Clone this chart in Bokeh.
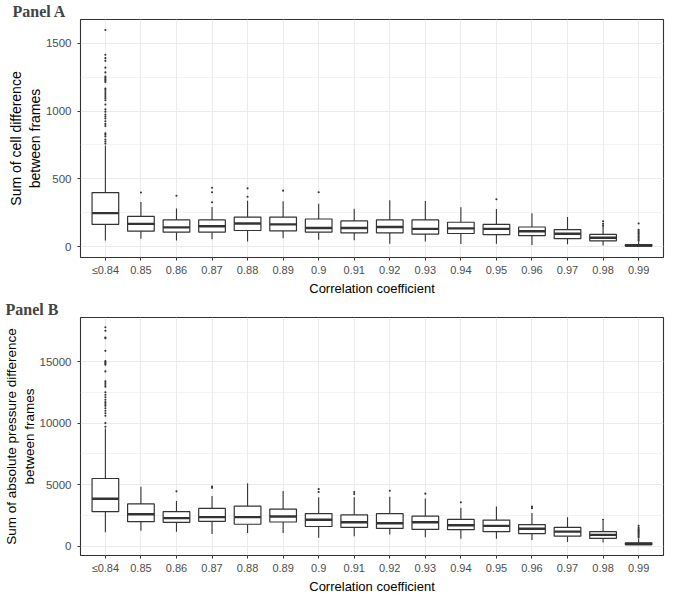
from bokeh.plotting import figure
from bokeh.models import FactorRange, Range1d, FixedTicker, ColumnDataSource
from bokeh.layouts import column
from bokeh.embed import file_html
from bokeh.resources import INLINE

cats = ["≤0.84", "0.85", "0.86", "0.87", "0.88", "0.89", "0.9", "0.91",
        "0.92", "0.93", "0.94", "0.95", "0.96", "0.97", "0.98", "0.99"]

# Panel A: sum of cell difference between frames
a_lo = [45, 59, 45, 55, 38, 62, 50, 47, 21, 38, 19, 21, 12, 17, 9, 0]
a_q1 = [164, 114, 107, 107, 119, 116, 107, 102, 102, 93, 97, 88, 81, 59, 43, 4]
a_med = [247, 168, 142, 150, 171, 164, 138, 138, 145, 131, 135, 131, 114, 95, 66, 9]
a_q3 = [399, 223, 197, 197, 218, 218, 204, 190, 197, 197, 180, 164, 145, 126, 90, 16]
a_hi = [745, 330, 282, 292, 339, 335, 316, 280, 342, 337, 290, 278, 247, 218, 150, 40]
a_out = {
    "≤0.84": [760, 775, 790, 812, 825, 835, 890, 905, 925, 945, 960, 975, 995, 1012,
              1048, 1080, 1095, 1110, 1125, 1140, 1155, 1165, 1215, 1225, 1235, 1245,
              1255, 1285, 1320, 1370, 1390, 1415, 1598],
    "0.85": [399],
    "0.86": [375],
    "0.87": [327, 401, 434],
    "0.88": [368, 430],
    "0.89": [413],
    "0.9": [401],
    "0.95": [349],
    "0.98": [154, 168, 187],
    "0.99": [45, 55, 65, 75, 85, 95, 105, 115, 125, 171],
}

# Panel B: sum of absolute pressure difference between frames
b_lo = [1126, 1257, 1178, 995, 1073, 1073, 681, 812, 942, 733, 602, 602, 497, 340, 288, 100]
b_q1 = [2801, 1990, 1937, 2016, 1780, 1964, 1597, 1518, 1440, 1361, 1335, 1178, 1021, 812, 628, 130]
b_med = [3848, 2592, 2278, 2356, 2356, 2409, 2147, 1937, 1859, 1937, 1702, 1649, 1414, 1178, 916, 180]
b_q3 = [5498, 3430, 2801, 3063, 3246, 3011, 2644, 2539, 2644, 2435, 2173, 2121, 1754, 1518, 1178, 260]
b_hi = [9550, 4817, 3665, 4084, 5105, 4477, 3979, 3979, 4006, 3875, 3115, 3220, 2697, 2356, 2050, 600]
b_out = {
    "≤0.84": [9700, 10000, 10600, 10800, 11000, 11200, 11400, 11550, 11700, 11900,
              12100, 12300, 12500, 12950, 13100, 13250, 13400, 14200, 14750, 14850,
              14950, 15050, 15870, 16900, 16960, 17500, 17790],
    "0.86": [4451],
    "0.87": [4739, 4843],
    "0.9": [4398, 4634],
    "0.91": [4241, 4398],
    "0.92": [4503],
    "0.93": [4267],
    "0.94": [3560],
    "0.96": [3089, 3220],
    "0.98": [2147],
    "0.99": [700, 800, 900, 1000, 1100, 1200, 1300, 1400, 1500, 1650],
}

a_ticks = [0, 500, 1000, 1500]
a_minor = [250, 750, 1250]
b_ticks = [0, 5000, 10000, 15000]
b_minor = [2500, 7500, 12500]

DARK = "#333333"
GRID = "#EBEBEB"
SANS = "Liberation Sans"


def panel(title, ylabel, lo, q1, med, q3, hi, outs, yr, ticks, minor,
          height, left, ylab_size, bottom):
    p = figure(x_range=FactorRange(*cats, range_padding=0.2, range_padding_units="absolute"),
               y_range=Range1d(*yr), width=669, height=height,
               output_backend="svg", toolbar_location=None, tools="",
               min_border_left=left, min_border_right=6, min_border_top=0,
               min_border_bottom=bottom)
    p.title.text = title
    p.title.text_font = "Liberation Serif"
    p.title.text_font_style = "bold"
    p.title.text_font_size = "16px"
    p.title.offset = -left
    p.title.standoff = 0

    p.outline_line_color = DARK
    p.outline_line_width = 1.1
    p.outline_line_alpha = 1

    p.xgrid.grid_line_color = GRID
    p.xgrid.grid_line_width = 1.1
    p.ygrid.grid_line_color = GRID
    p.ygrid.grid_line_width = 1.1
    p.ygrid.minor_grid_line_color = GRID
    p.ygrid.minor_grid_line_width = 0.6

    p.yaxis.ticker = FixedTicker(ticks=ticks, minor_ticks=minor)
    for ax in (p.xaxis[0], p.yaxis[0]):
        ax.axis_line_color = None
        ax.major_tick_line_color = DARK
        ax.major_tick_in = 0
        ax.major_tick_out = 3
        ax.minor_tick_line_color = None
        ax.major_label_text_color = "#4D4D4D"
        ax.axis_label_text_font_style = "normal"
        ax.axis_label_text_color = "black"
        ax.major_label_text_font = SANS
        ax.axis_label_text_font = SANS
    p.yaxis.major_label_text_font_size = "11.5px"
    p.yaxis.axis_label_text_font_size = ylab_size
    p.yaxis.axis_label = ylabel
    p.yaxis.axis_label_standoff = 0
    p.yaxis.major_label_standoff = 5
    p.xaxis.major_label_text_font_size = "11px"
    p.xaxis.axis_label_text_font_size = "13px"
    p.xaxis.axis_label = "Correlation coefficient"
    p.xaxis.axis_label_standoff = 2
    p.xaxis.major_label_standoff = 3

    src = ColumnDataSource(dict(
        x=cats, lo=lo, q1=q1, med=med, q3=q3, hi=hi,
        xl=[(c, -0.375) for c in cats], xr=[(c, 0.375) for c in cats]))
    p.segment(x0="x", x1="x", y0="q3", y1="hi", source=src, line_color=DARK, line_width=1.1)
    p.segment(x0="x", x1="x", y0="q1", y1="lo", source=src, line_color=DARK, line_width=1.1)
    p.vbar(x="x", width=0.75, bottom="q1", top="q3", source=src,
           fill_color="white", line_color=DARK, line_width=1.2)
    p.segment(x0="xl", x1="xr", y0="med", y1="med", source=src, line_color=DARK, line_width=2.4)

    ox, oy = [], []
    for c in cats:
        for v in outs.get(c, []):
            ox.append(c)
            oy.append(v)
    p.scatter(x=ox, y=oy, size=2.1, color=DARK, line_width=0)
    return p


pa = panel("Panel A", "Sum of cell difference\nbetween frames",
           a_lo, a_q1, a_med, a_q3, a_hi, a_out, (-80, 1675), a_ticks, a_minor,
           298, 68, "14px", 6)
pb = panel("Panel B", "Sum of absolute pressure difference\nbetween frames",
           b_lo, b_q1, b_med, b_q3, b_hi, b_out, (-760, 18580), b_ticks, b_minor,
           298, 75, "13.5px", 0)

layout = column(pa, pb, spacing=0)
open("out.html", "w").write(file_html(layout, INLINE))
